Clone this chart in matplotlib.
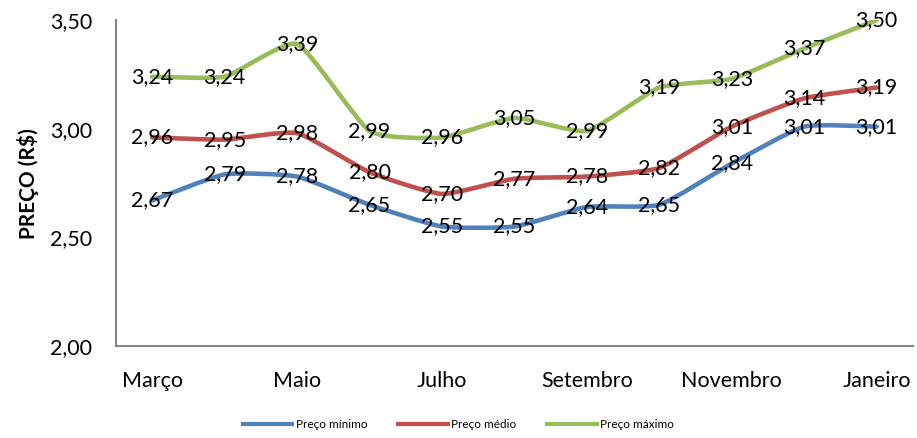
import numpy as np
import matplotlib.pyplot as plt
from matplotlib.path import Path
from matplotlib.patches import PathPatch
from matplotlib.lines import Line2D

plt.rcParams['font.family'] = ['Lato', 'DejaVu Sans']

# Dados
meses = ['Março', 'Abril', 'Maio', 'Junho', 'Julho', 'Agosto', 'Setembro',
         'Outubro', 'Novembro', 'Dezembro', 'Janeiro']
preco_min = [2.67, 2.79, 2.78, 2.65, 2.55, 2.55, 2.64, 2.65, 2.84, 3.01, 3.01]
preco_med = [2.96, 2.95, 2.98, 2.80, 2.70, 2.77, 2.78, 2.82, 3.01, 3.14, 3.19]
preco_max = [3.24, 3.24, 3.39, 2.99, 2.96, 3.05, 2.99, 3.19, 3.23, 3.37, 3.50]
y_ticks = [2.0, 2.5, 3.0, 3.5]
y_tick_labels = ['2,00', '2,50', '3,00', '3,50']

series = [
    ('Preço mínimo', preco_min, '#4F81BD'),
    ('Preço médio', preco_med, '#C0504D'),
    ('Preço máximo', preco_max, '#9BBB59'),
]


def curva_suave(x, y, k=12):
    # linha levemente suavizada (estilo Excel) com curvas de Bezier
    p = np.column_stack([x, y])
    n = len(p)
    verts = [p[0]]
    codes = [Path.MOVETO]
    for i in range(n - 1):
        p0 = p[i - 1] if i > 0 else p[i]
        p3 = p[i + 2] if i + 2 < n else p[i + 1]
        c1 = p[i] + (p[i + 1] - p0) / k
        c2 = p[i + 1] - (p3 - p[i]) / k
        verts += [c1, c2, p[i + 1]]
        codes += [Path.CURVE4] * 3
    return Path(verts, codes)


fig = plt.figure(figsize=(9.17, 4.38), dpi=100)
ax = fig.add_axes([0.1265, 0.21, 0.869, 0.744])

x = np.arange(len(meses))
handles = []
for nome, valores, cor in series:
    patch = PathPatch(curva_suave(x, valores), facecolor='none', edgecolor=cor,
                      lw=3.3, capstyle='round', joinstyle='round')
    ax.add_patch(patch)
    for xi, v in zip(x, valores):
        ax.text(xi, v, f'{v:.2f}'.replace('.', ','), ha='center', va='center',
                fontsize=15.5, color='black')
    handles.append(Line2D([], [], color=cor, lw=3, label=nome))

ax.set_xlim(-0.5, len(meses) - 0.5)
ax.set_ylim(2.0, 3.5)
ax.set_xticks(x[::2])
ax.set_xticklabels(meses[::2], fontsize=15.5)
ax.set_yticks(y_ticks)
ax.set_yticklabels(y_tick_labels, fontsize=15.5)
ax.tick_params(axis='both', length=0)
ax.tick_params(axis='x', pad=18)
ax.tick_params(axis='y', pad=17)
ax.set_ylabel('PREÇO (R$)', fontsize=15, fontweight='bold', labelpad=8)

for s in ['top', 'right']:
    ax.spines[s].set_visible(False)
for s in ['left', 'bottom']:
    ax.spines[s].set_color('#868686')
    ax.spines[s].set_linewidth(1.5)

fig.legend(handles=handles, loc='center', bbox_to_anchor=(0.5, 0.03), ncol=3,
           frameon=False, fontsize=8.5, handlelength=4.2, columnspacing=2.6,
           handletextpad=0.3)

plt.savefig('out.png', dpi=100)
